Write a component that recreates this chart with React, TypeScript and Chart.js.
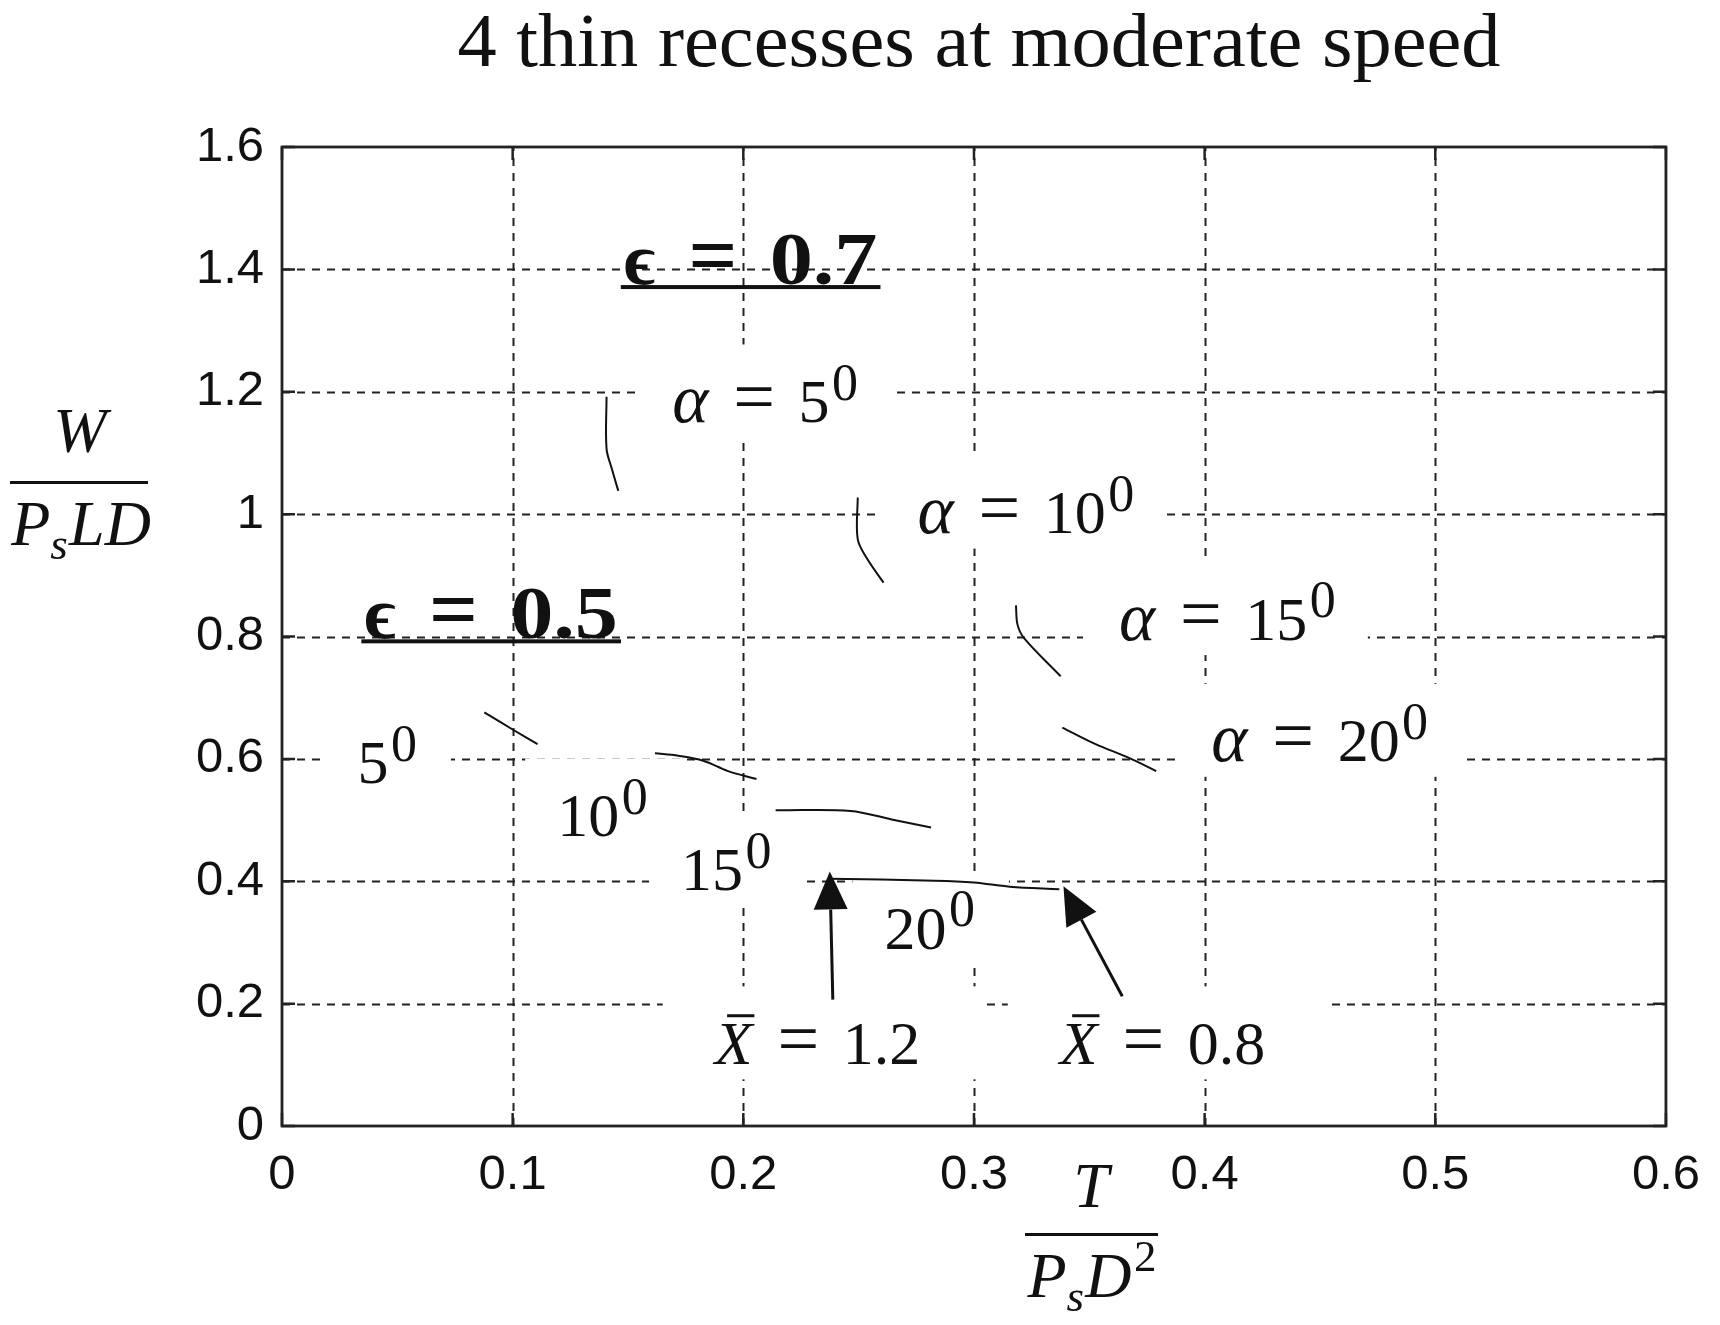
import React, { useEffect, useRef } from "react";
import { Chart, registerables } from "chart.js";

Chart.register(...registerables);

// axis ticks
const xTicks = [0, 0.1, 0.2, 0.3, 0.4, 0.5, 0.6];
const xTickLabels = ["0", "0.1", "0.2", "0.3", "0.4", "0.5", "0.6"];
const yTicks = [0, 0.2, 0.4, 0.6, 0.8, 1.0, 1.2, 1.4, 1.6];
const yTickLabels = ["0", "0.2", "0.4", "0.6", "0.8", "1", "1.2", "1.4", "1.6"];

// eps = 0.7 curves (T / PsD^2 , W / PsLD)
const e07a5T = [0.1407, 0.1407, 0.143, 0.1458];
const e07a5W = [1.192, 1.107, 1.074, 1.038];
const e07a10T = [0.2496, 0.2496, 0.2537, 0.2608];
const e07a10W = [1.027, 0.959, 0.927, 0.888];
const e07a15T = [0.3182, 0.3189, 0.3218, 0.3376];
const e07a15W = [0.851, 0.819, 0.797, 0.735];
const e07a20T = [0.3383, 0.3527, 0.367, 0.379];
const e07a20W = [0.651, 0.624, 0.602, 0.58];

// eps = 0.5 curves
const e05a5T = [0.0877, 0.1, 0.1108];
const e05a5W = [0.676, 0.648, 0.624];
const e05a10T = [0.1617, 0.1718, 0.1826, 0.1934, 0.2057];
const e05a10W = [0.609, 0.605, 0.597, 0.58, 0.567];
const e05a15T = [0.214, 0.2465, 0.2643, 0.2814];
const e05a15W = [0.516, 0.515, 0.501, 0.488];
const e05a20T = [0.237, 0.283, 0.3, 0.3155, 0.337];
const e05a20W = [0.404, 0.401, 0.398, 0.391, 0.387];

const curvesT = [e07a5T, e07a10T, e07a15T, e07a20T, e05a5T, e05a10T, e05a15T, e05a20T];
const curvesW = [e07a5W, e07a10W, e07a15W, e07a20W, e05a5W, e05a10W, e05a15W, e05a20W];

// arrows for X-bar = 1.2 and X-bar = 0.8
const arrowTailT = [0.2388, 0.3643];
const arrowTailW = [0.2065, 0.212];
const arrowTipT = [0.2375, 0.3388];
const arrowTipW = [0.416, 0.392];

// labels (left edge, baseline)
const alphaVals = ["5", "10", "15", "20"];
const alphaT = [0.1692, 0.2755, 0.3629, 0.4029];
const alphaW = [1.1506, 0.969, 0.795, 0.596];
const degVals = ["5", "10", "15", "20"];
const degT = [0.0327, 0.1193, 0.173, 0.2612];
const degW = [0.56, 0.474, 0.385, 0.29];
const xbarVals = ["1.2", "0.8"];
const xbarT = [0.1876, 0.3372];
const xbarW = [0.1016, 0.1016];
const epsVals = ["0.7", "0.5"];
const epsT = [0.1482, 0.0357];
const epsW = [1.376, 0.797];

const SERIF = '"Liberation Serif", "DejaVu Serif", serif';
const SANS = '"Liberation Sans", Arial, sans-serif';
const INK = "#111";
const F = 62;
const FE = 75;

type Piece = { t: string; it?: boolean; bold?: boolean; s?: number; sx?: number; rise?: number; gap?: number; bar?: boolean };

function pieceFont(p: Piece, size: number) {
  return `${p.it ? "italic " : ""}${p.bold ? "bold " : ""}${Math.round(size * (p.s ?? 1))}px ${SERIF}`;
}

function measurePieces(ctx: CanvasRenderingContext2D, pieces: Piece[], size: number) {
  let w = 0;
  for (const p of pieces) {
    ctx.font = pieceFont(p, size);
    w += (p.gap ?? 0) * size + ctx.measureText(p.t).width * (p.sx ?? 1);
  }
  return w;
}

function drawPieces(ctx: CanvasRenderingContext2D, pieces: Piece[], x: number, y: number, size: number) {
  let cx = x;
  for (const p of pieces) {
    cx += (p.gap ?? 0) * size;
    ctx.font = pieceFont(p, size);
    const sx = p.sx ?? 1;
    const w = ctx.measureText(p.t).width * sx;
    const py = y - (p.rise ?? 0) * size;
    if (sx !== 1) {
      ctx.save();
      ctx.translate(cx, py);
      ctx.scale(sx, 1);
      ctx.fillText(p.t, 0, 0);
      ctx.restore();
    } else {
      ctx.fillText(p.t, cx, py);
    }
    if (p.bar) {
      ctx.fillRect(cx + 0.2 * size, y - 0.8 * size, w * 0.72, 3);
    }
    cx += w;
  }
  return cx - x;
}

const sup0: Piece = { t: "0", s: 0.84, rise: 0.36, gap: 0.04 };
const eqPiece = (gap: number): Piece => ({ t: "=", s: 1.2, gap, rise: 0.02 });
const alphaPieces = (v: string): Piece[] => [{ t: "α", it: true, s: 1.12 }, eqPiece(0.4), { t: v, gap: 0.38 }, sup0];
const degPieces = (v: string): Piece[] => [{ t: v }, sup0];
const xbarPieces = (v: string): Piece[] => [{ t: "X", it: true, bar: true }, eqPiece(0.4), { t: v, gap: 0.38 }];
const epsPieces = (v: string): Piece[] => [
  { t: "ϵ", bold: true },
  { t: "=", bold: true, s: 1.15, gap: 0.44 },
  { t: v, bold: true, gap: 0.43, sx: 1.15 },
];

function boxedLabels(): { pieces: Piece[]; t: number; w: number; pl: number; pr: number }[] {
  return [
    ...alphaVals.map((v, i) => ({ pieces: alphaPieces(v), t: alphaT[i], w: alphaW[i], pl: 36, pr: 32 })),
    ...degVals.map((v, i) => ({ pieces: degPieces(v), t: degT[i], w: degW[i], pl: 32, pr: 34 })),
    ...xbarVals.map((v, i) => ({ pieces: xbarPieces(v), t: xbarT[i], w: xbarW[i], pl: 52, pr: 62 })),
  ];
}

const plotPlugin = {
  id: "plotDecor",
  beforeDatasetsDraw(chart: any) {
    const { ctx, chartArea: a, scales } = chart;
    ctx.save();
    ctx.strokeStyle = "#222";
    ctx.lineWidth = 2;
    ctx.setLineDash([8, 7]);
    xTicks.forEach((v) => {
      const px = Math.round(scales.x.getPixelForValue(v)) + 0.5;
      if (px <= a.left + 2 || px >= a.right - 2) return;
      ctx.beginPath();
      ctx.moveTo(px, a.bottom);
      ctx.lineTo(px, a.top);
      ctx.stroke();
    });
    yTicks.forEach((v) => {
      const py = Math.round(scales.y.getPixelForValue(v)) + 0.5;
      if (py <= a.top + 2 || py >= a.bottom - 2) return;
      ctx.beginPath();
      ctx.moveTo(a.left, py);
      ctx.lineTo(a.right, py);
      ctx.stroke();
    });
    ctx.setLineDash([]);
    // inward tick marks
    ctx.lineWidth = 2.5;
    const tl = 13;
    xTicks.forEach((v) => {
      const px = scales.x.getPixelForValue(v);
      ctx.beginPath();
      ctx.moveTo(px, a.bottom);
      ctx.lineTo(px, a.bottom - tl);
      ctx.moveTo(px, a.top);
      ctx.lineTo(px, a.top + tl);
      ctx.stroke();
    });
    yTicks.forEach((v) => {
      const py = scales.y.getPixelForValue(v);
      ctx.beginPath();
      ctx.moveTo(a.left, py);
      ctx.lineTo(a.left + tl, py);
      ctx.moveTo(a.right, py);
      ctx.lineTo(a.right - tl, py);
      ctx.stroke();
    });
    ctx.lineWidth = 2.8;
    ctx.strokeRect(a.left, a.top, a.right - a.left, a.bottom - a.top);
    // white boxes behind labels
    ctx.fillStyle = "#fff";
    boxedLabels().forEach((l) => {
      const x = scales.x.getPixelForValue(l.t);
      const y = scales.y.getPixelForValue(l.w);
      const w = measurePieces(ctx, l.pieces, F);
      ctx.fillRect(x - l.pl, y - 1.25 * F, w + l.pl + l.pr, 1.5 * F);
    });
    ctx.restore();
  },
  afterDatasetsDraw(chart: any) {
    const { ctx, scales } = chart;
    ctx.save();
    ctx.fillStyle = INK;
    ctx.strokeStyle = INK;
    // arrows
    arrowTailT.forEach((_, i) => {
      const x0 = scales.x.getPixelForValue(arrowTailT[i]);
      const y0 = scales.y.getPixelForValue(arrowTailW[i]);
      const x1 = scales.x.getPixelForValue(arrowTipT[i]);
      const y1 = scales.y.getPixelForValue(arrowTipW[i]);
      const ang = Math.atan2(y1 - y0, x1 - x0);
      const hl = 38;
      const hw = 17;
      const bx = x1 - hl * Math.cos(ang);
      const by = y1 - hl * Math.sin(ang);
      ctx.lineWidth = 3;
      ctx.beginPath();
      ctx.moveTo(x0, y0);
      ctx.lineTo(bx, by);
      ctx.stroke();
      ctx.beginPath();
      ctx.moveTo(x1, y1);
      ctx.lineTo(bx + hw * Math.sin(ang), by - hw * Math.cos(ang));
      ctx.lineTo(bx - hw * Math.sin(ang), by + hw * Math.cos(ang));
      ctx.closePath();
      ctx.fill();
    });
    // labels
    ctx.textAlign = "left";
    ctx.textBaseline = "alphabetic";
    boxedLabels().forEach((l) => {
      drawPieces(ctx, l.pieces, scales.x.getPixelForValue(l.t), scales.y.getPixelForValue(l.w), F);
    });
    epsVals.forEach((v, i) => {
      const x = scales.x.getPixelForValue(epsT[i]);
      const y = scales.y.getPixelForValue(epsW[i]);
      const w = drawPieces(ctx, epsPieces(v), x, y, FE);
      ctx.fillRect(x - 3, y + 1, w + 6, 4);
    });
    ctx.restore();
  },
  afterDraw(chart: any) {
    const { ctx } = chart;
    ctx.save();
    ctx.fillStyle = INK;
    ctx.textBaseline = "alphabetic";
    // title
    const title = "4 thin recesses at moderate speed";
    ctx.font = `76px ${SERIF}`;
    const tw = ctx.measureText(title).width;
    const sx = 1043 / tw;
    ctx.save();
    ctx.translate(979 - 1043 / 2, 66);
    ctx.scale(sx, 1);
    ctx.textAlign = "left";
    ctx.fillText(title, 0, 0);
    ctx.restore();

    const AF = 64;
    // y axis label: W / (Ps L D)
    ctx.textAlign = "left";
    const wTop: Piece[] = [{ t: "W", it: true }];
    const wBot: Piece[] = [{ t: "P", it: true }, { t: "s", it: true, s: 0.7, rise: -0.22 }, { t: "LD", it: true, gap: 0.02 }];
    const w1 = measurePieces(ctx, wTop, AF);
    drawPieces(ctx, wTop, 80 - w1 / 2, 452, AF);
    ctx.fillRect(10, 481, 138, 3);
    const w2 = measurePieces(ctx, wBot, AF);
    drawPieces(ctx, wBot, 81 - w2 / 2, 545, AF);

    // x axis label: T / (Ps D^2)
    const tTop: Piece[] = [{ t: "T", it: true }];
    const tBot: Piece[] = [
      { t: "P", it: true },
      { t: "s", it: true, s: 0.7, rise: -0.22 },
      { t: "D", it: true, gap: 0.02 },
      { t: "2", s: 0.7, rise: 0.4, gap: 0.04 },
    ];
    const w3 = measurePieces(ctx, tTop, AF);
    drawPieces(ctx, tTop, 1091 - w3 / 2, 1207, AF);
    ctx.fillRect(1025, 1233, 133, 3);
    const w4 = measurePieces(ctx, tBot, AF);
    drawPieces(ctx, tBot, 1092 - w4 / 2, 1297, AF);
    ctx.restore();
  },
};

export default function App() {
  const canvasRef = useRef<HTMLCanvasElement | null>(null);

  useEffect(() => {
    if (!canvasRef.current) return;
    const datasets = curvesT.map((ts, k) => ({
      data: ts.map((t, i) => ({ x: t, y: curvesW[k][i] })),
      borderColor: INK,
      backgroundColor: INK,
      borderWidth: 2,
      pointRadius: 0,
      tension: 0.35,
      fill: false,
    }));

    const chart = new Chart(canvasRef.current, {
      type: "line",
      data: { datasets },
      options: {
        responsive: false,
        animation: false,
        devicePixelRatio: 1,
        layout: { padding: { left: 0, top: 147, right: 34, bottom: 0 } },
        plugins: { legend: { display: false }, tooltip: { enabled: false }, title: { display: false } },
        scales: {
          x: {
            type: "linear",
            min: 0,
            max: 0.6,
            afterBuildTicks: (s: any) => {
              s.ticks = xTicks.map((v) => ({ value: v }));
            },
            afterFit: (s: any) => {
              s.height = 199;
            },
            ticks: {
              autoSkip: false,
              maxRotation: 0,
              padding: 20,
              color: INK,
              font: { family: SANS, size: 49 },
              callback: (_v: any, i: number) => xTickLabels[i],
            },
            grid: { display: false, drawTicks: false },
            border: { display: false },
          },
          y: {
            type: "linear",
            min: 0,
            max: 1.6,
            afterBuildTicks: (s: any) => {
              s.ticks = yTicks.map((v) => ({ value: v }));
            },
            afterFit: (s: any) => {
              s.width = 282;
            },
            ticks: {
              autoSkip: false,
              padding: 18,
              color: INK,
              font: { family: SANS, size: 49 },
              callback: (_v: any, i: number) => yTickLabels[i],
            },
            grid: { display: false, drawTicks: false },
            border: { display: false },
          },
        },
      },
      plugins: [plotPlugin],
    });

    return () => chart.destroy();
  }, []);

  return (
    <div style={{ position: "absolute", left: 0, top: 0, width: 1720, height: 1325, background: "#fff" }}>
      <canvas ref={canvasRef} width={1720} height={1325} style={{ display: "block", width: 1720, height: 1325 }} />
    </div>
  );
}
